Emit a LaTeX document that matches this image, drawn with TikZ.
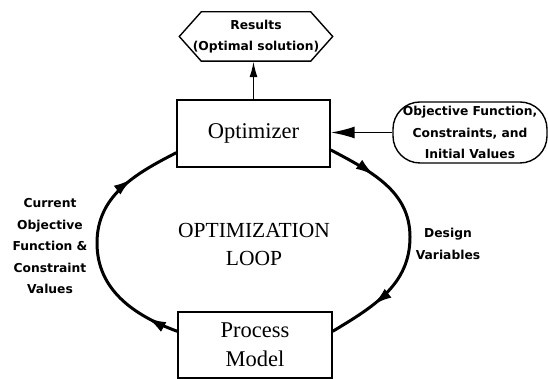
\documentclass[tikz,border=0pt]{standalone}
\usepackage{fontspec}
\newfontfamily\lblfont{DejaVu Sans}
\newfontfamily\boxfont{Liberation Serif}
\usetikzlibrary{arrows.meta,decorations.markings}

\begin{document}
\begin{tikzpicture}[x=1pt,y=1pt,
  box/.style={draw,line width=1.4pt,inner sep=0pt,align=center,font=\boxfont\fontsize{22.5}{29}\selectfont},
  lbl/.style={align=center,inner sep=0pt,font=\lblfont\bfseries\fontsize{12.3}{21.5}\selectfont},
  titletext/.style={align=center,font=\boxfont\fontsize{21.5}{28}\selectfont},
  cycleline/.style={line width=3pt,postaction={decorate}},
  tip/.style={-{Latex[length=#1,width=0.5*#1]}}]
  \def \looptip {\arrow{Latex[length=19pt,width=11pt]}}
  \useasboundingbox (0,0) rectangle (548,379);

  \node[box,minimum width=153pt,minimum height=67pt] (opt) at (253.5,245.5) {Optimizer};
  \node[box,minimum width=154pt,minimum height=66pt] (pm) at (255,34) {Process\\Model};
  \node[lbl,minimum width=153pt,minimum height=49pt] (res) at (256,342.5) {Results\\(Optimal solution)};
  \node[lbl,draw,line width=1.4pt,rounded corners=27pt,minimum width=154pt,minimum height=61pt] (obj) at (470,246.5) {Objective Function,\\Constraints, and\\Initial Values};

  \draw[line width=1.4pt] (res.west) -- ([xshift=22pt]res.north west) -- ([xshift=-22pt]res.north east)
    -- (res.east) -- ([xshift=-22pt]res.south east) -- ([xshift=22pt]res.south west) -- cycle;

  \draw[line width=1.8pt,tip=16pt] (opt.north) -- (opt.north |- res.south);
  \draw[line width=1.8pt,tip=24pt] (obj.west) -- (obj.west -| opt.east);

  \coordinate (lft) at (97,136);
  \coordinate (rgt) at (410,142);
  \draw[cycleline,decoration={markings,mark=at position 0.13 with {\looptip},mark=at position 0.8 with {\looptip}}]
    (pm.170) to[out=160,in=-90] (lft) to[out=90,in=207] (opt.194);
  \draw[cycleline,decoration={markings,mark=at position 0.2 with {\looptip},mark=at position 0.81 with {\looptip}}]
    (opt.-12) to[out=-28,in=90] (rgt) to[out=-90,in=31] (pm.10);

  \node[lbl] (cur) at (50,132.5) {Current\\Objective\\Function \&\\Constraint\\Values};
  \node[lbl] (dv) at (448,135) {Design\\Variables};
  \node[titletext] (ol) at (254,135) {OPTIMIZATION\\LOOP};
\end{tikzpicture}
\end{document}
